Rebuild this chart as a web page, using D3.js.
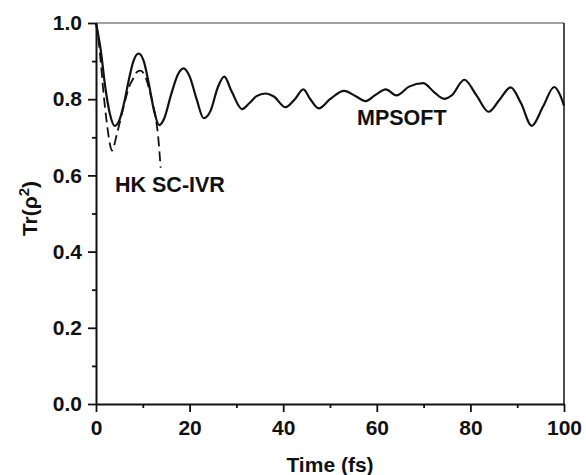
<!DOCTYPE html>
<html>
<head>
<meta charset="utf-8">
<script src="https://cdn.jsdelivr.net/npm/d3@7"></script>
<style>
	body { margin: 0; background: #fff; }
	text { font-family: 'Liberation Sans', Arial, sans-serif; font-weight: bold; fill: #111; }
</style>
</head>
<body>
<svg class="chart"></svg>
<script>
const [width, height] = [586, 475]
const margin = { top: 23, right: 22, bottom: 71, left: 96 }

// MPSOFT curve (time fs, Tr(rho^2))
const mpTime = [0, 1, 2, 3, 4, 5, 6, 7, 8, 9.1, 10.2, 11.3, 12.4, 13.5, 14.6, 16, 17.5, 18.7, 20, 21.5,
	23, 24.5, 26, 27.4, 29, 31.2, 32.8, 34.3, 36.2, 38, 40.5, 42.5, 44.3, 45.8, 47.6, 50, 53, 55.5,
	57.6, 59.8, 61.9, 64.2, 66.9, 69.9, 72.3, 74.4, 76, 78.7, 81.3, 83.9, 86.3, 88.6, 90.8, 93.1,
	95.5, 97.9, 99.2, 100]
const mpValue = [1.0, 0.93, 0.83, 0.76, 0.73, 0.745, 0.79, 0.85, 0.9, 0.92, 0.9, 0.84, 0.77, 0.732, 0.75, 0.81, 0.865, 0.881, 0.86, 0.8,
	0.75, 0.77, 0.83, 0.859, 0.82, 0.774, 0.79, 0.808, 0.815, 0.807, 0.779, 0.8, 0.826, 0.8, 0.776, 0.8, 0.822, 0.808,
	0.795, 0.812, 0.826, 0.81, 0.833, 0.842, 0.818, 0.801, 0.81, 0.851, 0.81, 0.767, 0.8, 0.831, 0.79, 0.73,
	0.78, 0.832, 0.81, 0.783]

// HK SC-IVR curve
const hkTime = [0, 0.5, 1, 1.5, 2, 2.5, 3, 3.4, 3.8, 4.3, 5, 6, 7, 8, 8.8, 9.5, 10.5, 11.5, 12.3, 12.9, 13.3, 13.6, 13.8]
const hkValue = [1.0, 0.96, 0.9, 0.83, 0.77, 0.72, 0.68, 0.665, 0.675, 0.7, 0.735, 0.785, 0.83, 0.855, 0.872, 0.875, 0.86, 0.82, 0.78, 0.74, 0.7, 0.655, 0.62]

const xTicks = [0, 20, 40, 60, 80, 100]
const xMinor = [10, 30, 50, 70, 90]
const yTicks = [0, 0.2, 0.4, 0.6, 0.8, 1.0]
const yMinor = [0.1, 0.3, 0.5, 0.7, 0.9]

const svg = d3.select('svg.chart')
	.attr('width', width)
	.attr('height', height)

const x = d3.scaleLinear().domain([0, 100]).range([margin.left, width - margin.right])
const y = d3.scaleLinear().domain([0, 1]).range([height - margin.bottom, margin.top])

// frame
svg.append('line')
	.attr('x1', x(0)).attr('x2', x(100)).attr('y1', y(1)).attr('y2', y(1))
	.attr('stroke', '#444').attr('stroke-width', 1.2)
svg.append('line')
	.attr('x1', x(100)).attr('x2', x(100)).attr('y1', y(1)).attr('y2', y(0))
	.attr('stroke', '#111').attr('stroke-width', 1.5)

const gx = svg.append('g')
	.attr('transform', `translate(0,${y(0)})`)
	.call(d3.axisBottom(x).tickValues(xTicks).tickSize(8).tickPadding(8).tickSizeOuter(0))
gx.append('g')
	.call(d3.axisBottom(x).tickValues(xMinor).tickSize(4).tickFormat('').tickSizeOuter(0))
	.select('.domain').remove()

const gy = svg.append('g')
	.attr('transform', `translate(${x(0)},0)`)
	.call(d3.axisLeft(y).tickValues(yTicks).tickSize(8).tickPadding(6).tickSizeOuter(0).tickFormat(d3.format('.1f')))
gy.append('g')
	.call(d3.axisLeft(y).tickValues(yMinor).tickSize(4).tickFormat('').tickSizeOuter(0))
	.select('.domain').remove()

svg.selectAll('.domain').attr('stroke', '#111').attr('stroke-width', 2)
svg.selectAll('.tick line').attr('stroke', '#111').attr('stroke-width', 1.8)
svg.selectAll('.tick text')
	.attr('font-size', 21)
	.attr('font-family', null)
	.attr('fill', '#111')

// curves
const line = d3.line()
	.x(d => x(d[0]))
	.y(d => y(d[1]))
	.curve(d3.curveMonotoneX)

svg.append('path')
	.datum(hkTime.map((t, i) => [t, hkValue[i]]))
	.attr('d', line)
	.attr('fill', 'none')
	.attr('stroke', '#111')
	.attr('stroke-width', 1.8)
	.attr('stroke-dasharray', '10,5')

svg.append('path')
	.datum(mpTime.map((t, i) => [t, mpValue[i]]))
	.attr('d', line)
	.attr('fill', 'none')
	.attr('stroke', '#111')
	.attr('stroke-width', 2.2)

// labels
svg.append('text')
	.attr('x', 115).attr('y', 192)
	.attr('font-size', 21.5)
	.text('HK SC-IVR')

svg.append('text')
	.attr('x', 357).attr('y', 125)
	.attr('font-size', 21.5)
	.text('MPSOFT')

svg.append('text')
	.attr('x', (x(0) + x(100)) / 2).attr('y', 472)
	.attr('text-anchor', 'middle')
	.attr('font-size', 21)
	.text('Time (fs)')

const ylab = svg.append('text')
	.attr('transform', `translate(37,${(y(0) + y(1)) / 2 - 5}) rotate(-90)`)
	.attr('text-anchor', 'middle')
	.attr('font-size', 21)
ylab.append('tspan').text('Tr(\u03c1')
ylab.append('tspan').attr('dy', -8).attr('font-size', 15).text('2')
ylab.append('tspan').attr('dy', 8).text(')')
</script>
</body>
</html>
